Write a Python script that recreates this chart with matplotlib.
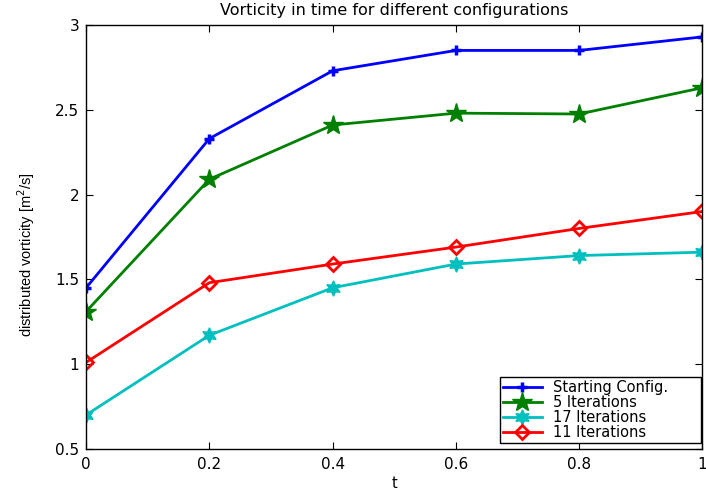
import matplotlib
matplotlib.use('Agg')
import numpy as np
import matplotlib.pyplot as plt

plt.rcParams['font.family'] = ['DejaVu Sans']

t = [0, 0.2, 0.4, 0.6, 0.8, 1.0]

starting = [1.45, 2.33, 2.73, 2.85, 2.85, 2.93]
iter5 = [1.31, 2.09, 2.41, 2.48, 2.475, 2.63]
iter17 = [0.70, 1.17, 1.45, 1.59, 1.64, 1.66]
iter11 = [1.01, 1.48, 1.59, 1.69, 1.80, 1.90]

xticks = [0, 0.2, 0.4, 0.6, 0.8, 1]
yticks = [0.5, 1, 1.5, 2, 2.5, 3]

fig = plt.figure(figsize=(7.06, 4.9), dpi=100)
ax = fig.add_axes([0.122, 0.084, 0.873, 0.865])

ax.plot(t, starting, color='#0000ff', lw=2, marker='+', ms=7, mew=2.5,
        label='Starting Config.')
ax.plot(t, iter5, color='#008000', lw=2, marker='*', ms=15, mew=1,
        label='5 Iterations')
ax.plot(t, iter17, color='#00bfbf', lw=2, marker=(6, 1, 0), ms=11, mew=1,
        label='17 Iterations')
ax.plot(t, iter11, color='#ff0000', lw=2, marker='D', ms=7, mew=2,
        mfc='none', label='11 Iterations')

ax.set_xlim(0, 1)
ax.set_ylim(0.5, 3)
ax.set_xticks(xticks)
ax.set_xticklabels(['0', '0.2', '0.4', '0.6', '0.8', '1'])
ax.set_yticks(yticks)
ax.set_yticklabels(['0.5', '1', '1.5', '2', '2.5', '3'])
ax.tick_params(direction='in', length=5, width=0.8, top=True, right=True,
               labelsize=11)
ax.tick_params(axis='x', pad=6)
ax.tick_params(axis='y', pad=5)
for s in ax.spines.values():
    s.set_linewidth(1)

ax.set_title('Vorticity in time for different configurations', fontsize=11.5, pad=7)
ax.set_xlabel('t', fontsize=10.5)
ax.xaxis.set_label_coords(0.5, -0.064)
ax.set_ylabel('distributed vorticity [m$^2$/s]', fontsize=10.5,
              family=['Liberation Sans Narrow', 'Liberation Sans'])
ax.yaxis.set_label_coords(-0.08, 0.459)

# boxed legend stretched to the width of the original
leg = ax.legend(loc='lower left', bbox_to_anchor=(0.671, 0.014, 0.327, 0.1),
                mode='expand', fontsize=10.5, handlelength=2.7,
                fancybox=False, edgecolor='black', framealpha=1,
                borderpad=0.2, labelspacing=0.0, handletextpad=0.75,
                borderaxespad=0)
leg.get_frame().set_linewidth(1)

fig.savefig('out.png', dpi=100)
